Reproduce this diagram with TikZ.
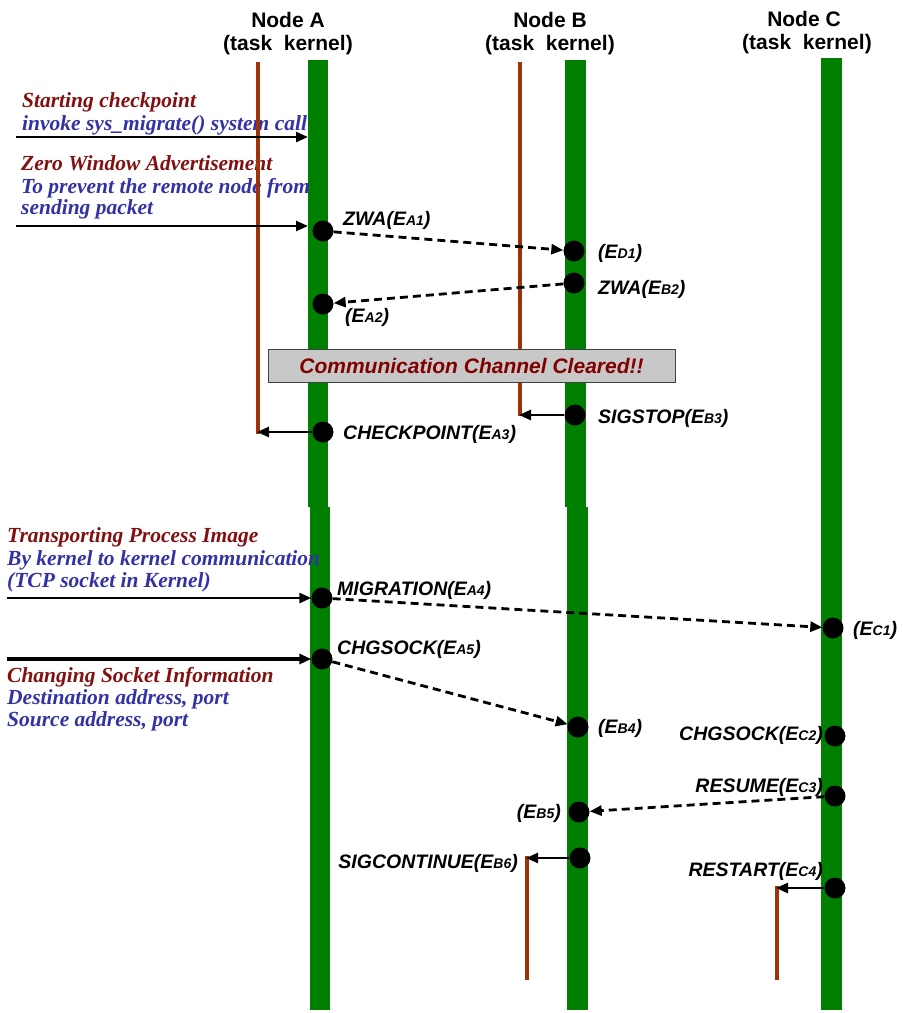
\documentclass[tikz,border=0pt]{standalone}
\usepackage{fontspec}
\setmainfont{Liberation Serif}
\newfontfamily\arialfont{Liberation Sans}
\usetikzlibrary{arrows.meta}
\definecolor{kgreen}{RGB}{0,128,0}
\definecolor{taskbrown}{RGB}{158,50,8}
\definecolor{notered}{RGB}{130,16,16}
\definecolor{noteblue}{RGB}{50,50,165}
\definecolor{boxgray}{RGB}{200,200,200}
\definecolor{boxtext}{RGB}{128,0,0}
% event name: E followed by a smaller tag
\newcommand\evsub[1]{E{\fontsize{14}{14}\selectfont #1}}

\begin{document}
\begin{tikzpicture}[x=1pt,y=-1pt,
  kbar/.style={fill=kgreen, draw=none},
  taskline/.style={draw=taskbrown, line width=3.6pt},
  ev/.style={circle, fill=black, minimum size=21pt, inner sep=0pt},
  msg/.style={line width=2.8pt, dash pattern=on 8pt off 5pt, -{Triangle[length=12pt,width=10pt]}},
  call/.style={line width=2.6pt, -{Triangle[length=12pt,width=10pt]}},
  bigcall/.style={line width=3.8pt, -{Triangle[length=12pt,width=10pt]}},
  lbl/.style={font=\arialfont\bfseries\itshape\fontsize{19.5}{19.5}\selectfont, inner sep=0pt},
  hdr/.style={font=\arialfont\bfseries\fontsize{21}{21}\selectfont, inner sep=0pt, anchor=base},
  notered/.style={font=\bfseries\itshape\fontsize{21.5}{21.5}\selectfont, text=notered, inner sep=0pt, anchor=base west},
  noteblue/.style={font=\bfseries\itshape\fontsize{21.5}{21.5}\selectfont, text=noteblue, inner sep=0pt, anchor=base west}
]
\useasboundingbox (0,0) rectangle (903,1013);

% headers
\node[hdr] (hA) at (288,27) {Node A};
\node[hdr] (hA2) at (288,50) {(task\ \ kernel)};
\node[hdr] (hB) at (550,27) {Node B};
\node[hdr] (hB2) at (550,50) {(task\ \ kernel)};
\node[hdr] (hC) at (804,26) {Node C};
\node[hdr] (hC2) at (807,49) {(task\ \ kernel)};

% kernel lifelines
\fill[kbar] (308,60) rectangle (328,507);
\fill[kbar] (310,507) rectangle (330,1010);
\fill[kbar] (565,60) rectangle (586,507);
\fill[kbar] (567,507) rectangle (588,1010);
\fill[kbar] (821,58) rectangle (842,1010);

% side notes
\node[notered] (n1) at (22,107) {Starting checkpoint};
\node[noteblue] (n2) at (22,130) {invoke sys\_migrate() system call};
\node[notered] (n3) at (21,170) {Zero Window Advertisement};
\node[noteblue] (n4) at (21,193) {To prevent the remote node from};
\node[noteblue] (n5) at (21,214) {sending packet};
\node[notered] (n6) at (7,542) {Transporting Process Image};
\node[noteblue] (n7) at (7,565) {By kernel to kernel communication};
\node[noteblue] (n8) at (7,587) {(TCP socket in Kernel)};
\node[notered] (n9) at (7,682) {Changing Socket Information};
\node[noteblue] (n10) at (7,704) {Destination address, port};
\node[noteblue] (n11) at (7,726) {Source address, port};

% task lifelines
\draw[taskline] (258,62) -- (258,434);
\draw[taskline] (520,62) -- (520,416);
\draw[taskline] (527,856) -- (527,980);
\draw[taskline] (777,886) -- (777,980);

% channel cleared banner
\node[draw=black!75, line width=1pt, fill=boxgray, minimum width=407pt, minimum height=33pt, inner sep=0pt,
      font=\arialfont\bfseries\itshape\fontsize{21}{21}\selectfont, text=boxtext] (clear) at (471.5,365.5)
      {Communication Channel Cleared!!};

% events
\node[ev] (A1) at (323,231) {};
\node[ev] (D1) at (574,251) {};
\node[ev] (B2) at (574,283) {};
\node[ev] (A2) at (323,304) {};
\node[ev] (B3) at (575,415) {};
\node[ev] (A3) at (323,432) {};
\node[ev] (A4) at (322,598) {};
\node[ev] (A5) at (322,659) {};
\node[ev] (C1) at (833,628) {};
\node[ev] (B4) at (578,727) {};
\node[ev] (C2) at (835,736) {};
\node[ev] (C3) at (835,796) {};
\node[ev] (B5) at (579,812) {};
\node[ev] (B6) at (580,858) {};
\node[ev] (C4) at (835,888) {};

% incoming system calls
\coordinate (in1) at (16,137);
\coordinate (in1e) at (308,137);
\coordinate (in2) at (16,226);
\coordinate (in2e) at (308,226);
\coordinate (in3) at (7,598);
\coordinate (in4) at (7,659);
\draw[call] (in1) -- (in1e);
\draw[call] (in2) -- (in2e);
\draw[call] (in3) -- (A4);
\draw[bigcall] (in4) -- (A5);

% messages between kernels
\draw[msg] (A1) -- (D1);
\draw[msg] (B2) -- (A2);
\draw[msg] (A4) -- (C1);
\draw[msg] (A5) -- (B4);
\draw[msg] (C3) -- (B5);

% signals to tasks
\coordinate (tA3) at (257,432);
\coordinate (tB3) at (519,415);
\coordinate (tB6) at (526,858);
\coordinate (tC4) at (776,888);
\draw[call] (A3) -- (tA3);
\draw[call] (B3) -- (tB3);
\draw[call] (B6) -- (tB6);
\draw[call] (C4) -- (tC4);

% event labels
\node[lbl, anchor=base west] (lA1) at (343,225) {ZWA(\evsub{A1})};
\node[lbl, anchor=base west] (lD1) at (598,258) {(\evsub{D1})};
\node[lbl, anchor=base west] (lB2) at (598,294) {ZWA(\evsub{B2})};
\node[lbl, anchor=base west] (lA2) at (345,322) {(\evsub{A2})};
\node[lbl, anchor=base west] (lB3) at (598,423) {SIGSTOP(\evsub{B3})};
\node[lbl, anchor=base west] (lA3) at (343,439) {CHECKPOINT(\evsub{A3})};
\node[lbl, anchor=base west] (lA4) at (337,595) {MIGRATION(\evsub{A4})};
\node[lbl, anchor=base west] (lC1) at (853,635) {(\evsub{C1})};
\node[lbl, anchor=base west] (lA5) at (337,654) {CHGSOCK(\evsub{A5})};
\node[lbl, anchor=base west] (lB4) at (598,733) {(\evsub{B4})};
\node[lbl, anchor=base east] (lC2) at (823,740) {CHGSOCK(\evsub{C2})};
\node[lbl, anchor=base east] (lC3) at (823,792) {RESUME(\evsub{C3})};
\node[lbl, anchor=base east] (lB5) at (561,818) {(\evsub{B5})};
\node[lbl, anchor=base east] (lB6) at (518,868) {SIGCONTINUE(\evsub{B6})};
\node[lbl, anchor=base east] (lC4) at (823,876) {RESTART(\evsub{C4})};
\end{tikzpicture}
\end{document}
